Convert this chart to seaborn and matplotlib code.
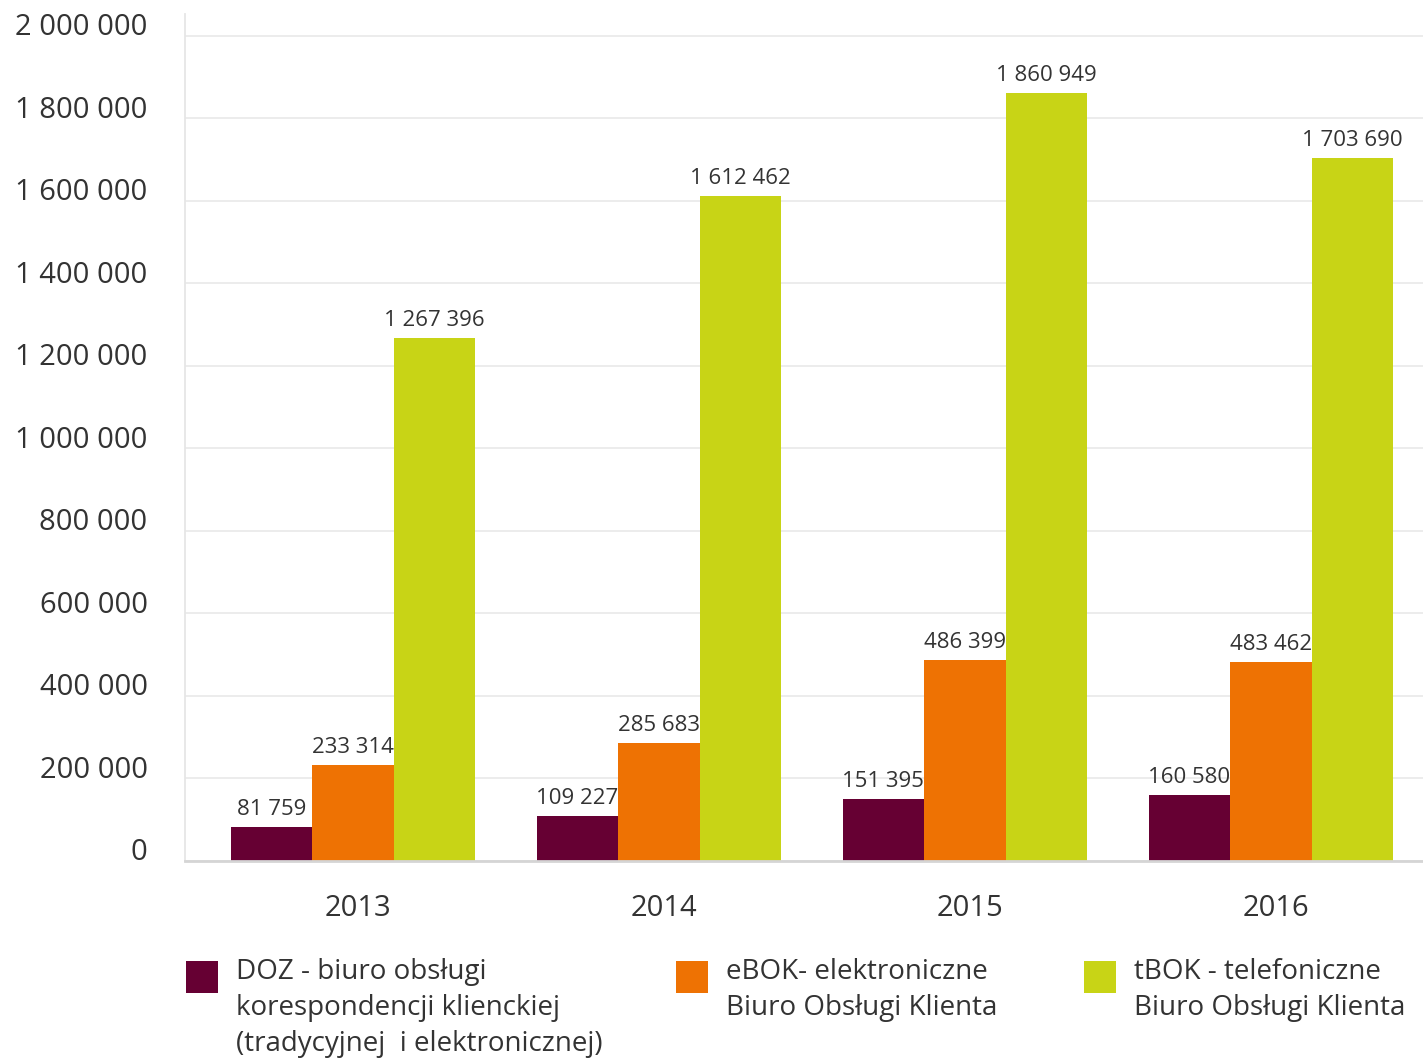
import matplotlib
matplotlib.use("Agg")
import matplotlib.pyplot as plt
import matplotlib.transforms as mtransforms
from matplotlib.patches import Rectangle
import seaborn as sns
import pandas as pd

# ---- data ----
years = ["2013", "2014", "2015", "2016"]
series_names = [
    "DOZ - biuro obsługi\nkorespondencji klienckiej\n(tradycyjnej  i elektronicznej)",
    "eBOK- elektroniczne\nBiuro Obsługi Klienta",
    "tBOK - telefoniczne\nBiuro Obsługi Klienta",
]
doz = [81759, 109227, 151395, 160580]
ebok = [233314, 285683, 486399, 483462]
tbok = [1267396, 1612462, 1860949, 1703690]
colors = ["#660033", "#ee7203", "#c8d416"]
yticks = [0, 200000, 400000, 600000, 800000, 1000000, 1200000, 1400000, 1600000, 1800000, 2000000]

def fmt(v):
    return f"{v:,}".replace(",", " ")

rows = []
for name, vals in zip(series_names, [doz, ebok, tbok]):
    for y, v in zip(years, vals):
        rows.append({"year": y, "value": v, "series": name})
df = pd.DataFrame(rows)

sns.set_theme(style="white")
plt.rcParams["font.family"] = ["Open Sans", "DejaVu Sans"]
txt = "#333333"

fig = plt.figure(figsize=(14.23, 10.60), dpi=100)
W, H = 1423, 1060
ax = fig.add_axes([185 / W, 1 - 861 / H, 1 - 185 / W, (861 - 14) / H])

sns.barplot(data=df, x="year", y="value", hue="series", order=years,
            hue_order=series_names, palette=colors, width=0.8,
            saturation=1, linewidth=0, ax=ax, legend=False)

ax.set_ylim(0, 2053333)
ax.set_xlim(-0.549, 3.497)
ax.set_yticks(yticks)
ax.set_yticklabels([fmt(t) for t in yticks], fontsize=21, color=txt)
ax.tick_params(axis="y", length=0, pad=27)
ax.tick_params(axis="x", length=0, pad=24, labelsize=21, labelcolor=txt)
offset = mtransforms.ScaledTranslation(0, 11.5 / 100, fig.dpi_scale_trans)
for lab in ax.get_yticklabels():
    lab.set_transform(lab.get_transform() + offset)
xoff = mtransforms.ScaledTranslation(5 / 100, 0, fig.dpi_scale_trans)
for lab in ax.get_xticklabels():
    lab.set_transform(lab.get_transform() + xoff)
ax.set_xlabel("")
ax.set_ylabel("")

ax.grid(axis="y", color="#ebebeb", linewidth=1.3)
ax.set_axisbelow(True)
for s in ["top", "right"]:
    ax.spines[s].set_visible(False)
ax.spines["left"].set_color("#e6e6e6")
ax.spines["left"].set_linewidth(1.3)
ax.spines["bottom"].set_color("#d5d5d5")
ax.spines["bottom"].set_linewidth(2)

for cont, vals in zip(ax.containers, [doz, ebok, tbok]):
    ax.bar_label(cont, labels=[fmt(v) for v in vals], padding=5,
                 fontsize=16, color=txt)

# ---- legend ----
leg_x = [186, 676, 1084]
for x0, c, name in zip(leg_x, colors, series_names):
    fig.patches.append(Rectangle((x0 / W, 1 - 993 / H), 32 / W, 32 / H,
                                 transform=fig.transFigure, facecolor=c,
                                 edgecolor="none"))
    fig.text((x0 + 50) / W, 1 - 958 / H, name, ha="left", va="top",
             fontsize=20, color=txt, linespacing=1.38)

fig.savefig("out.png", dpi=100)
